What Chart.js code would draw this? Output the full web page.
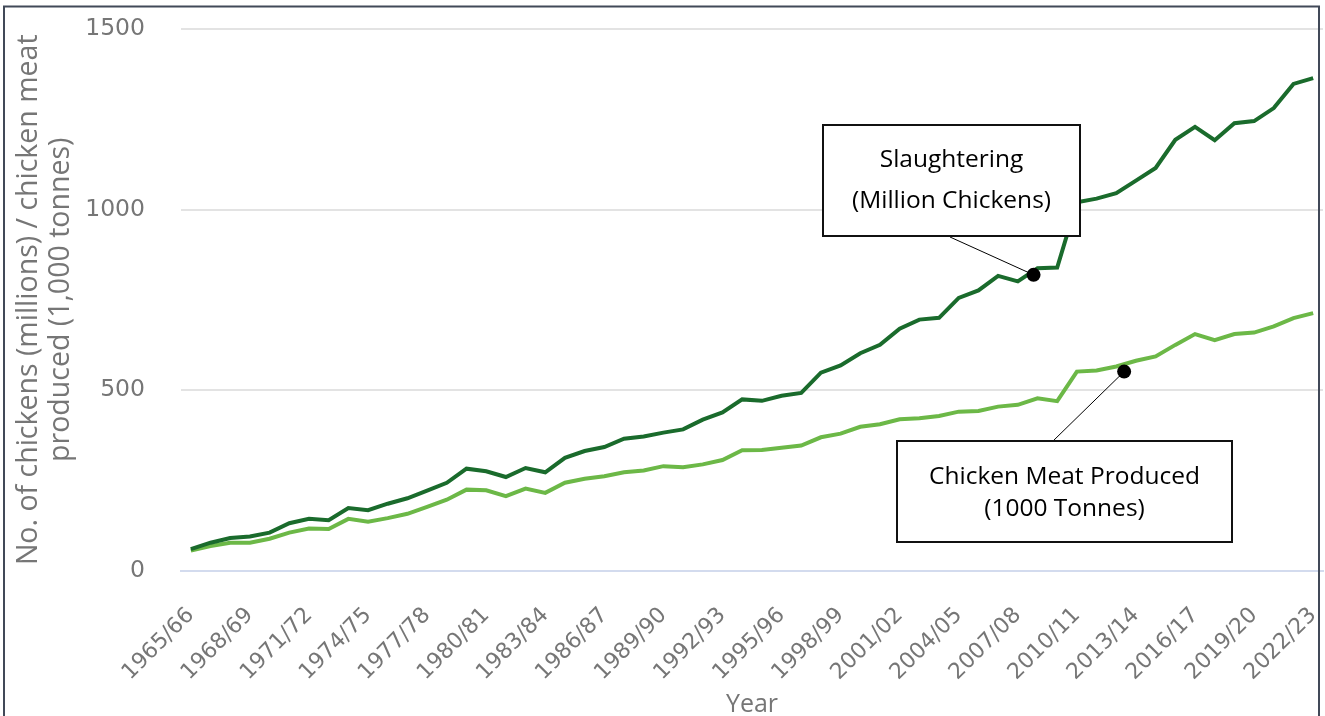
<!DOCTYPE html>
<html><head><meta charset="utf-8">
<script src="https://cdn.jsdelivr.net/npm/chart.js@4/dist/chart.umd.min.js"></script>
<style>html,body{margin:0;padding:0;background:#fff;overflow:hidden}canvas{display:block}</style>
</head><body><canvas id="c" width="1325" height="716"></canvas>
<script>
const seasons = ['1965/66','1966/67','1967/68','1968/69','1969/70','1970/71','1971/72','1972/73','1973/74','1974/75','1975/76','1976/77','1977/78','1978/79','1979/80','1980/81','1981/82','1982/83','1983/84','1984/85','1985/86','1986/87','1987/88','1988/89','1989/90','1990/91','1991/92','1992/93','1993/94','1994/95','1995/96','1996/97','1997/98','1998/99','1999/00','2000/01','2001/02','2002/03','2003/04','2004/05','2005/06','2006/07','2007/08','2008/09','2009/10','2010/11','2011/12','2012/13','2013/14','2014/15','2015/16','2016/17','2017/18','2018/19','2019/20','2020/21','2021/22','2022/23'];
const slaughterMillions = [59,77,90,94,105,131,143,139,173,167,185,200,221,243,282,275,259,284,272,312,331,342,365,371,382,391,418,438,474,470,484,492,548,568,602,625,670,695,700,755,776,816,801,837,839,1020,1030,1045,1080,1115,1193,1229,1192,1239,1245,1281,1348,1364];
const meatThousandTonnes = [55,68,77,77,88,105,116,115,143,135,145,157,176,196,224,222,206,227,215,243,254,261,272,277,289,286,294,306,333,334,340,346,369,379,398,405,419,422,428,440,442,454,459,477,469,551,554,565,581,593,625,655,638,655,659,676,699,713];
const yTickValues = [0,500,1000,1500];
const yTickLabels = ['0','500','1000','1500'];
const labelEvery = 3;
const seriesNames = ['Slaughtering (Million Chickens)','Chicken Meat Produced (1000 Tonnes)'];
const calloutText = [['Slaughtering','(Million Chickens)'],['Chicken Meat Produced','(1000 Tonnes)']];
const calloutAnchorIndex = [42.8, 47.4];
const calloutAnchorValue = [819, 551];

const GRAY = '#767676';
const callouts = [
  {box:{l:823,t:125,r:1080,b:236}, lineY:[160,201], lead:{x:950,y:237}},
  {box:{l:897,t:441,r:1232,b:542}, lineY:[477,509], lead:{x:1053,y:441}}
];

const overlay = {
  id:'overlay',
  afterDraw(chart){
    const ctx = chart.ctx, xs = chart.scales.x, ys = chart.scales.y;
    ctx.save();
    callouts.forEach((c,k)=>{
      const px = xs.getPixelForValue(calloutAnchorIndex[k]);
      const py = ys.getPixelForValue(calloutAnchorValue[k]);
      ctx.strokeStyle = '#000'; ctx.lineWidth = 1;
      ctx.beginPath(); ctx.moveTo(c.lead.x, c.lead.y); ctx.lineTo(px, py); ctx.stroke();
      ctx.fillStyle = '#000';
      ctx.beginPath(); ctx.arc(px, py, 7, 0, Math.PI*2); ctx.fill();
      ctx.fillStyle = '#fff';
      ctx.fillRect(c.box.l, c.box.t, c.box.r-c.box.l, c.box.b-c.box.t);
      ctx.strokeStyle = '#111'; ctx.lineWidth = 2;
      ctx.strokeRect(c.box.l, c.box.t, c.box.r-c.box.l, c.box.b-c.box.t);
      ctx.fillStyle = '#000'; ctx.font = '24.5px "Open Sans"';
      ctx.textAlign = 'center'; ctx.textBaseline = 'middle';
      calloutText[k].forEach((t,j)=>ctx.fillText(t, (c.box.l+c.box.r)/2, c.lineY[j]));
    });
    ctx.strokeStyle = '#414958'; ctx.lineWidth = 2;
    ctx.strokeRect(4, 6.5, 1315, 760);
    ctx.restore();
  }
};

new Chart(document.getElementById('c'), {
  type:'line',
  data:{
    labels: seasons,
    datasets:[
      {label:seriesNames[0], data:slaughterMillions, borderColor:'#1a6b2c', borderWidth:4, pointRadius:0, pointHoverRadius:0, tension:0},
      {label:seriesNames[1], data:meatThousandTonnes, borderColor:'#6cb847', borderWidth:4, pointRadius:0, pointHoverRadius:0, tension:0}
    ]
  },
  options:{
    responsive:false, animation:false, devicePixelRatio:1,
    layout:{autoPadding:false, padding:{top:29,right:2,left:0,bottom:0}},
    plugins:{legend:{display:false}, tooltip:{enabled:false}},
    scales:{
      x:{
        offset:true,
        grid:{color:'rgba(0,0,0,0)', drawTicks:false},
        border:{display:true, color:'#d3dbee', width:2},
        ticks:{autoSkip:false, maxRotation:45, minRotation:45, padding:32, color:GRAY,
          font:{family:'"DejaVu Sans"', size:22},
          callback:(v,i)=> i % labelEvery === 0 ? seasons[i] : ''},
        title:{display:true, text:'Year', color:GRAY, font:{family:'"Open Sans"', size:25, lineHeight:0.92}, padding:{top:0,bottom:0}},
        afterFit(s){ s.height = 145.5; s.paddingLeft = 0; s.paddingRight = 0; }
      },
      y:{
        min:0, max:1500,
        afterBuildTicks(s){ s.ticks = yTickValues.map(v=>({value:v})); },
        grid:{color:'#e3e3e3', lineWidth:2, drawTicks:false},
        border:{display:false},
        ticks:{padding:36, color:GRAY, font:{family:'"DejaVu Sans"', size:23.5},
          callback:(v)=> yTickLabels[yTickValues.indexOf(v)]},
        title:{display:true, text:['No. of chickens (millions) / chicken meat','produced (1,000 tonnes)'], color:GRAY,
          font:{family:'"Open Sans"', size:28.5, lineHeight:1.12}, padding:{top:13,bottom:0}},
        afterFit(s){ s.width = 181; s.paddingTop = 0; s.paddingBottom = 0; }
      }
    }
  },
  plugins:[overlay]
});
</script></body></html>
